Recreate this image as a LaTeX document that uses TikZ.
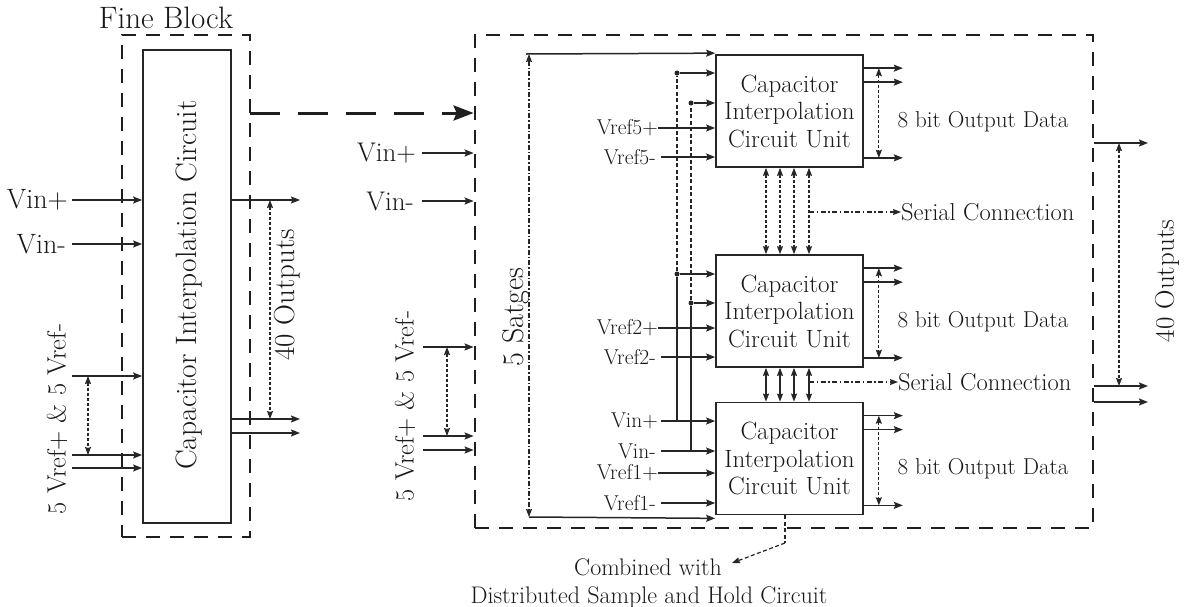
\documentclass[tikz,border=0pt]{standalone}
\usetikzlibrary{arrows.meta}
\begin{document}
\begin{tikzpicture}[x=1pt,y=-1pt,
  every node/.style={text=black!90},
  ln/.style={line width=1.5pt, draw=black!85},
  arr/.style={ln, -{Stealth[length=9pt,width=7pt,inset=1.5pt]}},
  darr/.style={line width=1.1pt, draw=black!85, dash pattern=on 3pt off 2pt,
     {Stealth[length=8pt,width=6pt,inset=1pt]}-{Stealth[length=8pt,width=6pt,inset=1pt]}},
  sarr/.style={line width=1.3pt, draw=black!85,
     {Stealth[length=8pt,width=6pt,inset=1pt]}-{Stealth[length=8pt,width=6pt,inset=1pt]}},
  ddarr/.style={line width=1.1pt, draw=black!85, dash pattern=on 5pt off 2pt on 1.5pt off 2pt,
     {Stealth[length=8pt,width=6pt,inset=1pt]}-{Stealth[length=8pt,width=6pt,inset=1pt]}},
  dashdotarr/.style={line width=1.1pt, draw=black!85, dash pattern=on 5pt off 2.5pt on 1.5pt off 2.5pt,
     -{Stealth[length=8pt,width=6pt,inset=1pt]}},
  vdash/.style={line width=1.2pt, draw=black!85, dash pattern=on 4pt off 2.5pt},
  bigbox/.style={draw=black!88, line width=2.8pt, dash pattern=on 14pt off 10pt},
  unitbox/.style={draw=black!85, line width=1.7pt, minimum width=147pt, minimum height=112pt,
     align=center, inner sep=0pt, font=\fontsize{25}{27.5}\selectfont},
  lbl/.style={inner sep=0pt, font=\fontsize{24.5}{28}\selectfont},
  slbl/.style={inner sep=0pt, font=\fontsize{21.5}{24}\selectfont},
  jdot/.style={circle, fill=black!85, inner sep=0pt, minimum size=5pt},
]
\useasboundingbox (0,0) rectangle (1184,606);

% ---------------- Fine block (left) ----------------
\node[bigbox, minimum width=128pt, minimum height=502pt, inner sep=0pt] (fineouter) at (186,286) {};
\node[draw=black!85, line width=1.7pt, minimum width=88pt, minimum height=473pt, inner sep=0pt] (fci) at (187,286.5) {};
\node[inner sep=0pt, rotate=90, font=\fontsize{29.5}{32}\selectfont] (fcit) at (189,285) {Capacitor Interpolation Circuit};
\node[inner sep=0pt, font=\fontsize{31}{34}\selectfont] (fbl) at (166,18) {Fine Block};

\node[inner sep=0pt, anchor=east, font=\fontsize{28}{30}\selectfont] (lvp) at (68,200) {Vin+};
\node[inner sep=0pt, anchor=east, font=\fontsize{28}{30}\selectfont] (lvm) at (66,244) {Vin-};
\draw[arr] ([xshift=4pt]lvp.east) -- (lvp.east -| fci.west);
\draw[arr] ([xshift=6pt]lvm.east) -- (lvm.east -| fci.west);

\coordinate (lr1) at (72,376);
\coordinate (lr2) at (72,455);
\coordinate (lr3) at (72,468);
\draw[arr] (lr1) -- (lr1 -| fci.west);
\draw[arr] (lr2) -- (lr2 -| fci.west);
\draw[arr] (lr3) -- (lr3 -| fci.west);
\draw[darr] ([xshift=16pt]lr1) -- ([xshift=16pt]lr2);
\node[inner sep=0pt, rotate=90, font=\fontsize{26.5}{30}\selectfont] (lvref) at (57,419) {5 Vref+ \& 5 Vref-};

\coordinate (lo1) at (300,200);
\coordinate (lo2) at (300,419);
\coordinate (lo3) at (300,433);
\draw[arr] (lo1 -| fci.east) -- (lo1);
\draw[arr] (lo2 -| fci.east) -- (lo2);
\draw[arr] (lo3 -| fci.east) -- (lo3);
\draw[darr] ([xshift=-30pt]lo1) -- ([xshift=-30pt]lo2);
\node[inner sep=0pt, rotate=90, font=\fontsize{29}{32}\selectfont] (lout) at (287,295) {40 Outputs};

% ---------------- Outer block (right) ----------------
\node[bigbox, minimum width=618pt, minimum height=493pt, inner sep=0pt] (outer) at (784,281.5) {};

% big dashed arrow between blocks
\coordinate (bd) at (250,113);
\draw[line width=3pt, draw=black!88, dash pattern=on 30pt off 18pt,
      -{Stealth[length=20pt,width=15pt,inset=3pt]}] (bd) -- (bd -| outer.west);

% middle inputs
\node[inner sep=0pt, anchor=east, font=\fontsize{27}{30}\selectfont] (mvp) at (416,153) {Vin+};
\node[inner sep=0pt, anchor=east, font=\fontsize{27}{30}\selectfont] (mvm) at (414,201) {Vin-};
\draw[arr] ([xshift=6pt]mvp.east) -- (mvp.east -| outer.west);
\draw[arr] ([xshift=8pt]mvm.east) -- (mvm.east -| outer.west);

\coordinate (mr1) at (423,347);
\coordinate (mr2) at (423,436);
\coordinate (mr3) at (423,450);
\draw[arr] (mr1) -- (mr1 -| outer.west);
\draw[arr] (mr2) -- (mr2 -| outer.west);
\draw[arr] (mr3) -- (mr3 -| outer.west);
\draw[darr] ([xshift=24pt]mr1) -- ([xshift=24pt]mr2);
\node[inner sep=0pt, rotate=90, font=\fontsize{26.5}{30}\selectfont] (mvref) at (405,406) {5 Vref+ \& 5 Vref-};

% units
\node[unitbox] (u5) at (789.5,111) {Capacitor\\Interpolation\\Circuit Unit};
\node[unitbox] (u2) at (789.5,311) {Capacitor\\Interpolation\\Circuit Unit};
\node[unitbox] (u1) at (789.5,458.5) {Capacitor\\Interpolation\\Circuit Unit};

% 5 stages
\coordinate (st) at (529,54);
\coordinate (sb) at (529,517);
\draw[ddarr] (st) -- (sb);
\draw[arr] ([xshift=-3pt]st) -- ([yshift=1pt]u5.north west);
\draw[arr] (sb) -- ([yshift=-3pt]u1.south west);
\node[inner sep=0pt, rotate=90, font=\fontsize{30}{32}\selectfont] (stg) at (516,317) {5 Satges};

% Vin distribution
\node[jdot] (d5a) at (677,73) {};
\node[jdot] (d5b) at (691,103) {};
\node[jdot] (d2a) at (677,274) {};
\node[jdot] (d2b) at (691,303) {};
\draw[arr] (d5a) -- (d5a -| u5.west);
\draw[arr] (d5b) -- (d5b -| u5.west);
\draw[arr] (d2a) -- (d2a -| u2.west);
\draw[arr] (d2b) -- (d2b -| u2.west);
\draw[vdash] (d2a) -- (d5a);
\draw[vdash] (d2b) -- (d5b);

\node[slbl, anchor=east] (v5p) at (658,128) {Vref5+};
\node[slbl, anchor=east] (v5m) at (656,157) {Vref5-};
\node[slbl, anchor=east] (v2p) at (658,328) {Vref2+};
\node[slbl, anchor=east] (v2m) at (656,357) {Vref2-};
\node[slbl, anchor=east] (vip) at (658,421) {Vin+};
\node[slbl, anchor=east] (vim) at (656,451) {Vin-};
\node[slbl, anchor=east] (v1p) at (658,473) {Vref1+};
\node[slbl, anchor=east] (v1m) at (656,503) {Vref1-};
\draw[arr] (v5p.east) -- (v5p.east -| u5.west);
\draw[arr] ([xshift=5pt]v5m.east) -- (v5m.east -| u5.west);
\draw[arr] (v2p.east) -- (v2p.east -| u2.west);
\draw[arr] ([xshift=5pt]v2m.east) -- (v2m.east -| u2.west);
\draw[arr] ([xshift=3pt]vip.east) -- (vip.east -| u1.west);
\draw[arr] ([xshift=5pt]vim.east) -- (vim.east -| u1.west);
\draw[arr] (v1p.east) -- (v1p.east -| u1.west);
\draw[arr] ([xshift=5pt]v1m.east) -- (v1m.east -| u1.west);
\draw[ln] (vip.east -| d2a) -- (d2a);
\draw[ln] (vim.east -| d2b) -- (d2b);

% outputs of units
\foreach \u in {u5,u2,u1}{
  \draw[arr] ([yshift=-14pt]\u.north east) -- ++(39,0);
  \draw[arr] ([yshift=-28pt]\u.north east) -- ++(39,0);
  \draw[arr] ([yshift=10pt]\u.south east) -- ++(39,0);
  \draw[darr] ([xshift=15pt,yshift=-14pt]\u.north east) -- ([xshift=15pt,yshift=10pt]\u.south east);
}
\node[inner sep=0pt, font=\fontsize{23}{26}\selectfont] (o5) at (983,122) {8 bit Output Data};
\node[inner sep=0pt, font=\fontsize{23}{26}\selectfont] (o2) at (983,322) {8 bit Output Data};
\node[inner sep=0pt, font=\fontsize{23}{26}\selectfont] (o1) at (983,469) {8 bit Output Data};

% serial connections
\foreach \dx in {-23.5,-9.5,4.5,19.5}{
  \draw[darr] ([xshift=\dx pt]u5.south) -- ([xshift=\dx pt]u2.north);
  \draw[sarr] ([xshift=\dx pt]u2.south) -- ([xshift=\dx pt]u1.north);
}
\node[lbl, anchor=west] (sc1) at (901,212) {Serial Connection};
\node[lbl, anchor=west] (sc2) at (898,382) {Serial Connection};
\draw[dashdotarr] (809,212) -- (sc1.west);
\draw[dashdotarr] (809,382) -- (sc2.west);

% right outputs
\coordinate (ro1) at (1148,143);
\coordinate (ro2) at (1148,386);
\coordinate (ro3) at (1148,402);
\draw[arr] (ro1 -| outer.east) -- (ro1);
\draw[arr] (ro2 -| outer.east) -- (ro2);
\draw[arr] (ro3 -| outer.east) -- (ro3);
\draw[darr] ([xshift=-29pt]ro1) -- ([xshift=-29pt]ro2);
\node[inner sep=0pt, rotate=90, font=\fontsize{27}{30}\selectfont] (rout) at (1167,281) {40 Outputs};

% bottom note
\node[inner sep=0pt, font=\fontsize{24}{28}\selectfont] (comb) at (648,567) {Combined with};
\node[inner sep=0pt, font=\fontsize{24}{28}\selectfont] (dist) at (649,597) {Distributed Sample and Hold Circuit};
\coordinate (cb) at (785,543);
\draw[vdash] ([xshift=-4.5pt]u1.south) -- (cb);
\draw[vdash, -{Stealth[length=8pt,width=6pt,inset=1pt]}] (cb) -- ([xshift=10pt,yshift=4pt]comb.east);
\end{tikzpicture}
\end{document}
